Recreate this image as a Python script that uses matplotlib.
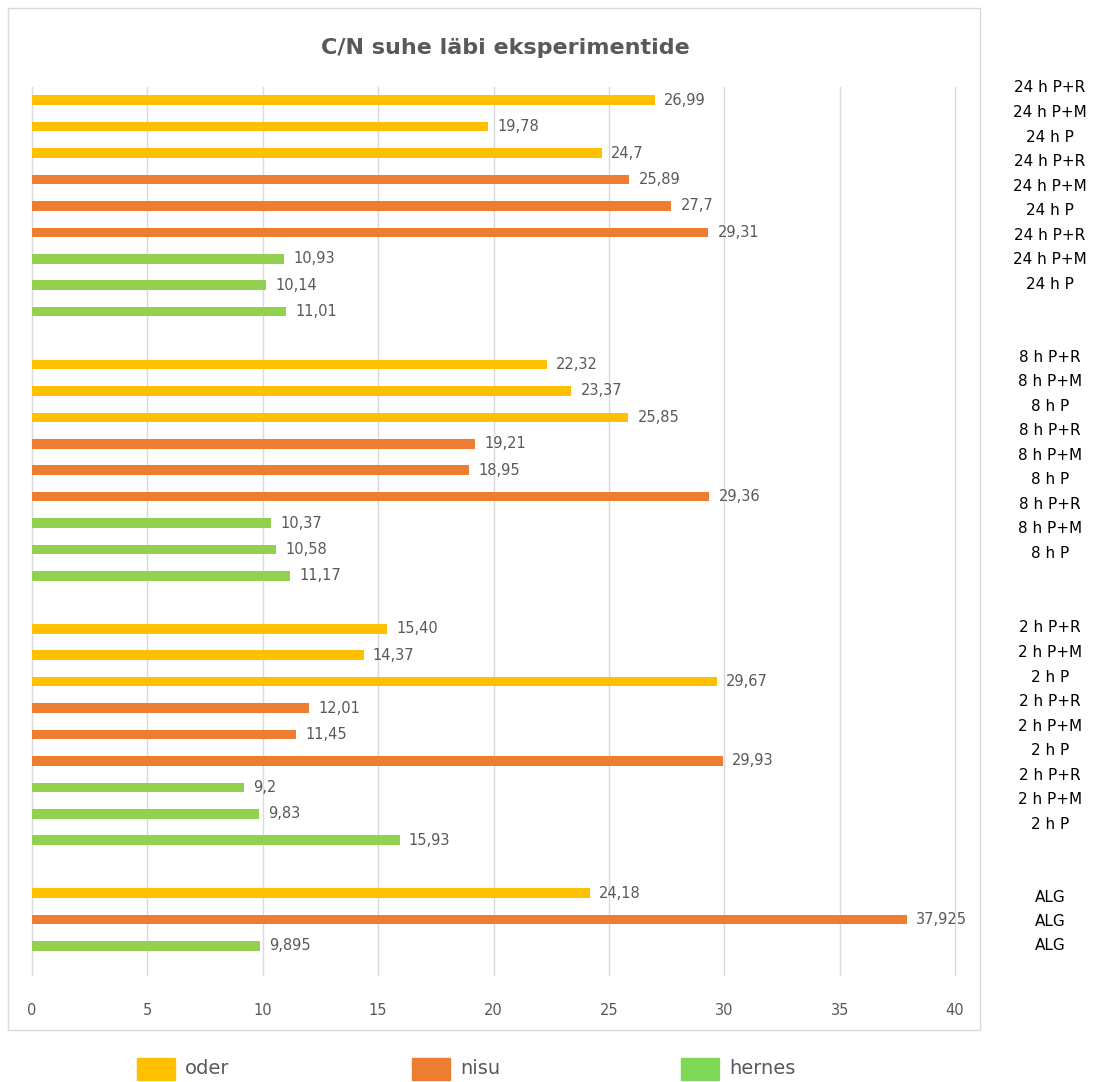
import matplotlib.pyplot as plt
from matplotlib.patches import Rectangle

plt.rcParams['font.family'] = ['DejaVu Sans']

# andmed (ülevalt alla): igas grupis P+R, P+M, P
groups = ["24 h", "8 h", "2 h"]
treatments = ["P+R", "P+M", "P"]
oder = [26.99, 19.78, 24.7, 22.32, 23.37, 25.85, 15.40, 14.37, 29.67]
nisu = [25.89, 27.7, 29.31, 19.21, 18.95, 29.36, 12.01, 11.45, 29.93]
hernes = [10.93, 10.14, 11.01, 10.37, 10.58, 11.17, 9.2, 9.83, 15.93]
alg = [24.18, 37.925, 9.895]  # oder, nisu, hernes
oder_txt = ["26,99", "19,78", "24,7", "22,32", "23,37", "25,85", "15,40", "14,37", "29,67"]
nisu_txt = ["25,89", "27,7", "29,31", "19,21", "18,95", "29,36", "12,01", "11,45", "29,93"]
hernes_txt = ["10,93", "10,14", "11,01", "10,37", "10,58", "11,17", "9,2", "9,83", "15,93"]
alg_txt = ["24,18", "37,925", "9,895"]
xticks = [0, 5, 10, 15, 20, 25, 30, 35, 40]

c_oder = "#FFC000"
c_nisu = "#ED7D31"
c_hernes = "#92D050"
gray = "#595959"

W, H = 1093, 1082
fig = plt.figure(figsize=(W / 100, H / 100), dpi=100)
ax = fig.add_axes([32 / W, 1 - 975 / H, 923 / W, 888 / H])

# ridade positsioonid: 9 riba grupi kohta + tühi rida
vals, txts, cols, pos = [], [], [], []
slot = 0
for g in range(3):
    for arr, tx, c in [(oder, oder_txt, c_oder), (nisu, nisu_txt, c_nisu),
                       (hernes, hernes_txt, c_hernes)]:
        for t in range(3):
            vals.append(arr[g * 3 + t])
            txts.append(tx[g * 3 + t])
            cols.append(c)
            pos.append(slot)
            slot += 1
    slot += 1
for v, tx, c in zip(alg, alg_txt, [c_oder, c_nisu, c_hernes]):
    vals.append(v)
    txts.append(tx)
    cols.append(c)
    pos.append(slot)
    slot += 1

ax.barh(pos, vals, height=0.36, color=cols, zorder=3)
for p, v, tx in zip(pos, vals, txts):
    ax.text(v + 0.4, p, tx, va="center", ha="left", fontsize=10.5, color=gray)

ax.set_xlim(0, 40)
ax.set_ylim(33.1, -0.5)
ax.set_xticks(xticks)
ax.set_yticks([])
ax.tick_params(axis="x", length=0, pad=20, labelsize=10.5, labelcolor=gray)
ax.grid(axis="x", color="#D9D9D9", linewidth=1, zorder=0)
for gl in ax.get_xgridlines():
    gl.set_clip_on(False)
for s in ax.spines.values():
    s.set_visible(False)

# raam
fig.patches.append(Rectangle((8 / W, 1 - 1030 / H), 972 / W, 1022 / H, transform=fig.transFigure,
                             fill=False, edgecolor="#D9D9D9", linewidth=1))

fig.text(505 / W, 1 - 48 / H, "C/N suhe läbi eksperimentide", ha="center", va="center",
         fontsize=16, fontweight="bold", color=gray)

# parempoolsed sildid
starts = [88, 357, 628]
for g, y0 in zip(groups, starts):
    i = 0
    for _ in range(3):
        for t in treatments:
            fig.text(1050 / W, 1 - (y0 + i * 24.55) / H, g + " " + t, ha="center", va="center",
                     fontsize=11, color="black")
            i += 1
for y in [897, 921, 946]:
    fig.text(1050 / W, 1 - y / H, "ALG", ha="center", va="center", fontsize=11, color="black")

# legend
for x0, name, c in [(137, "oder", c_oder), (412, "nisu", c_nisu), (681, "hernes", "#7ED957")]:
    fig.patches.append(Rectangle((x0 / W, 1 - 1080 / H), 38 / W, 22 / H, transform=fig.transFigure,
                                 color=c))
    fig.text((x0 + 48) / W, 1 - 1068 / H, name, ha="left", va="center", fontsize=14, color=gray)

fig.savefig("out.png", dpi=100)
